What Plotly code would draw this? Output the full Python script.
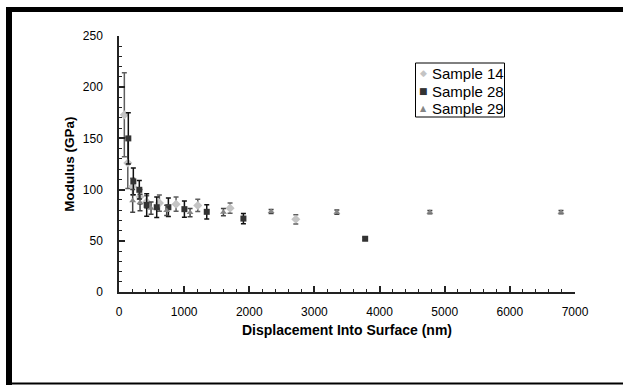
import plotly.graph_objects as go

# ---- data ----
s14_x = [82, 135, 210, 323, 425, 620, 876, 1209, 1705, 2714]
s14_y = [173, 126, 103, 93, 88, 86.8, 85.8, 84.5, 81.9, 71]
s14_e = [41, 25, 8, 7, 6, 8, 7, 6, 5, 4.5]

s28_x = [143, 220, 312, 425, 579, 758, 1004, 1347, 1910, 3779]
s28_y = [150, 108, 99.8, 85, 82.8, 82.8, 80.9, 78.3, 71.7, 52]
s28_e = [25, 13, 9, 11, 10, 9, 8, 7, 5, 1.5]

s29_x = [210, 323, 492, 732, 1091, 1603, 2335, 3344, 4772, 6785]
s29_y = [89, 87.4, 81.9, 79.6, 77.6, 78, 78.6, 78, 78, 78]
s29_e = [11, 8, 6, 5, 4, 3.5, 2, 2, 1.5, 1.5]

series_names = ["Sample 14", "Sample 28", "Sample 29"]
legend_glyphs = ["\u25C6", "\u25A0", "\u25B2"]

x_ticks = [0, 1000, 2000, 3000, 4000, 5000, 6000, 7000]
y_ticks = [0, 50, 100, 150, 200, 250]

FONT = "Arial, Liberation Sans, sans-serif"
COLORS = ["#c4c4c4", "#333333", "#858585"]
BAR_COLORS = ["#5e5e5e", "#111111", "#444444"]

fig = go.Figure()
for name, xs, ys, es, sym, sz, c, bc in [
    (series_names[0], s14_x, s14_y, s14_e, "diamond", 7, COLORS[0], BAR_COLORS[0]),
    (series_names[1], s28_x, s28_y, s28_e, "square", 6, COLORS[1], BAR_COLORS[1]),
    (series_names[2], s29_x, s29_y, s29_e, "triangle-up", 6, COLORS[2], BAR_COLORS[2]),
]:
    fig.add_trace(go.Scatter(
        x=xs, y=ys, mode="markers", name=name, showlegend=False,
        marker=dict(symbol=sym, size=sz, color=c),
        error_y=dict(type="data", array=es, color=bc, thickness=1.5, width=2.5),
    ))

# plot-area pixel -> paper coordinates
PL, PR, PT, PB = 119, 575, 36, 292
def px2paper_x(px):
    return (px - PL) / float(PR - PL)

def px2paper_y(py):
    return (PB - py) / float(PB - PT)

shapes = [
    # outer frame (top, left, bottom)
    dict(type="rect", xref="paper", yref="paper", layer="above",
         x0=px2paper_x(6), x1=px2paper_x(640), y0=px2paper_y(12), y1=px2paper_y(7),
         fillcolor="black", line=dict(width=0)),
    dict(type="rect", xref="paper", yref="paper", layer="above",
         x0=px2paper_x(6), x1=px2paper_x(12), y0=px2paper_y(400), y1=px2paper_y(7),
         fillcolor="black", line=dict(width=0)),
    dict(type="rect", xref="paper", yref="paper", layer="above",
         x0=px2paper_x(6), x1=px2paper_x(640), y0=px2paper_y(384.5), y1=px2paper_y(382.5),
         fillcolor="black", line=dict(width=0)),
    # legend box
    dict(type="rect", xref="paper", yref="paper", layer="above",
         x0=px2paper_x(415.5), x1=px2paper_x(504.5), y0=px2paper_y(117), y1=px2paper_y(63),
         fillcolor="white", line=dict(color="black", width=1)),
]

annotations = []
row_y = [73.3, 91, 108.7]
glyph_sizes = [9, 9, 8]
for i, name in enumerate(series_names):
    annotations.append(dict(
        xref="paper", yref="paper", x=px2paper_x(423.5), y=px2paper_y(row_y[i]),
        text=legend_glyphs[i], showarrow=False, xanchor="center", yanchor="middle",
        font=dict(size=glyph_sizes[i], color=COLORS[i], family="DejaVu Sans")))
    annotations.append(dict(
        xref="paper", yref="paper", x=px2paper_x(429.5), y=px2paper_y(row_y[i]),
        text=name, showarrow=False, xanchor="left", yanchor="middle",
        font=dict(size=15, color="black", family=FONT)))

fig.update_layout(
    width=623, height=385,
    margin=dict(l=PL, r=623 - PR, t=PT, b=385 - PB),
    paper_bgcolor="white", plot_bgcolor="white",
    font=dict(family=FONT, color="black", size=12),
    showlegend=False,
    shapes=shapes,
    annotations=annotations,
    xaxis=dict(range=[0, 7000], tickvals=x_ticks, ticks="inside", ticklen=6,
               tickwidth=1.5, tickcolor="#222", showline=True, linecolor="#222",
               linewidth=1.5, showgrid=False, zeroline=False, ticklabelstandoff=8,
               minor=dict(dtick=200, ticks="inside", ticklen=3, tickwidth=1, tickcolor="#222"),
               title=dict(text="<b>Displacement Into Surface (nm)</b>",
                          font=dict(size=14, family=FONT), standoff=7),
               tickfont=dict(size=12, color="black")),
    yaxis=dict(range=[0, 250], tickvals=y_ticks, ticks="inside", ticklen=6,
               tickwidth=1.5, tickcolor="#222", showline=True, linecolor="#222",
               linewidth=1.5, showgrid=False, zeroline=False, ticklabelstandoff=12,
               minor=dict(dtick=10, ticks="inside", ticklen=3, tickwidth=1, tickcolor="#222"),
               title=dict(text="<b>Modulus (GPa)</b>", font=dict(size=13.5, family=FONT),
                          standoff=5),
               tickfont=dict(size=12, color="black")),
)

fig.write_html("out.html")
